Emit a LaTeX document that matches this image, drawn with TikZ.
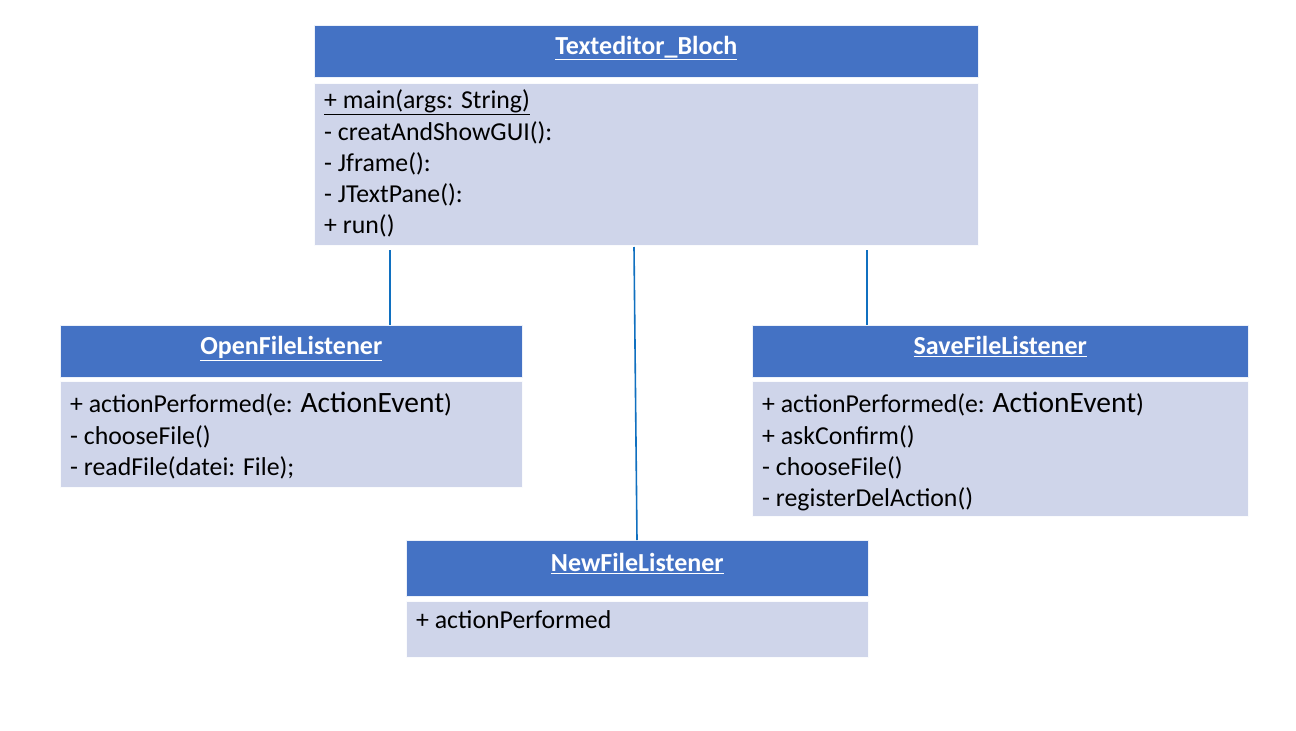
\documentclass[tikz,border=0pt]{standalone}
\usepackage{fontspec}
\setmainfont{Carlito}
\definecolor{headblue}{HTML}{4472C4}
\definecolor{bodyblue}{HTML}{CFD5EA}
\definecolor{lineblue}{HTML}{1070C0}
\tikzset{
  head/.style={fill=headblue, draw=white!90!headblue, line width=0.6pt, anchor=north west,
    inner sep=0pt, text height=18pt, text depth=12pt, text=white, font=\fontsize{26}{30}\bfseries\selectfont},
  classbody/.style={fill=bodyblue, draw=white!90!bodyblue, line width=0.6pt, anchor=north west, inner sep=0pt},
  member/.style={anchor=base west, inner sep=0pt, font=\fontsize{25.8}{30}\selectfont},
  assoc/.style={draw=lineblue, line width=1.6pt}
}
\newcommand{\bigtype}[1]{{\fontsize{29.5}{32}\selectfont #1}}
\begin{document}
\begin{tikzpicture}[x=1pt,y=-1pt]
\useasboundingbox[fill=white](0,0) rectangle (1296,731);
% Texteditor_Bloch
\node[head, minimum width=664pt, minimum height=52pt] (mainhead) at (314,25) {\underline{Texteditor\_Bloch}};
\node[classbody, minimum width=664pt, minimum height=162pt] (mainbody) at (314,83) {};
\node[member] (m1) at (324,108) {\underline{+ main(args: String)}};
\node[member] (m2) at (324,140) {- creatAndShowGUI():};
\node[member] (m3) at (324,171) {- Jframe():};
\node[member] (m4) at (324,202) {- JTextPane():};
\node[member] (m5) at (324,233) {+ run()};
% OpenFileListener
\node[head, minimum width=462pt, minimum height=52pt] (openhead) at (60,325) {\underline{OpenFileListener}};
\node[classbody, minimum width=462pt, minimum height=106pt] (openbody) at (60,381) {};
\node[member] (o1) at (70,412) {+ actionPerformed(e: \bigtype{ActionEvent})};
\node[member] (o2) at (70,444) {- chooseFile()};
\node[member] (o3) at (70,475) {- readFile(datei: File);};
% SaveFileListener
\node[head, minimum width=496pt, minimum height=52pt] (savehead) at (752,325) {\underline{SaveFileListener}};
\node[classbody, minimum width=496pt, minimum height=135pt] (savebody) at (752,381) {};
\node[member] (s1) at (762,412) {+ actionPerformed(e: \bigtype{ActionEvent})};
\node[member] (s2) at (762,444) {+ askConfirm()};
\node[member] (s3) at (762,475) {- chooseFile()};
\node[member] (s4) at (762,506) {- registerDelAction()};
% NewFileListener
\node[head, minimum width=462pt, minimum height=56pt] (newhead) at (406,540) {\underline{NewFileListener}};
\node[classbody, minimum width=462pt, minimum height=56pt] (newbody) at (406,601) {};
\node[member] (n1) at (416,628) {+ actionPerformed};
% associations
\coordinate (c1) at (390,250);
\coordinate (c2) at (634,247);
\coordinate (c3) at (867,250);
\draw[assoc] (c1) -- (c1 |- openhead.north);
\draw[assoc] (c2) -- (637,0 |- newhead.north);
\draw[assoc] (c3) -- (c3 |- savehead.north);
\end{tikzpicture}
\end{document}
